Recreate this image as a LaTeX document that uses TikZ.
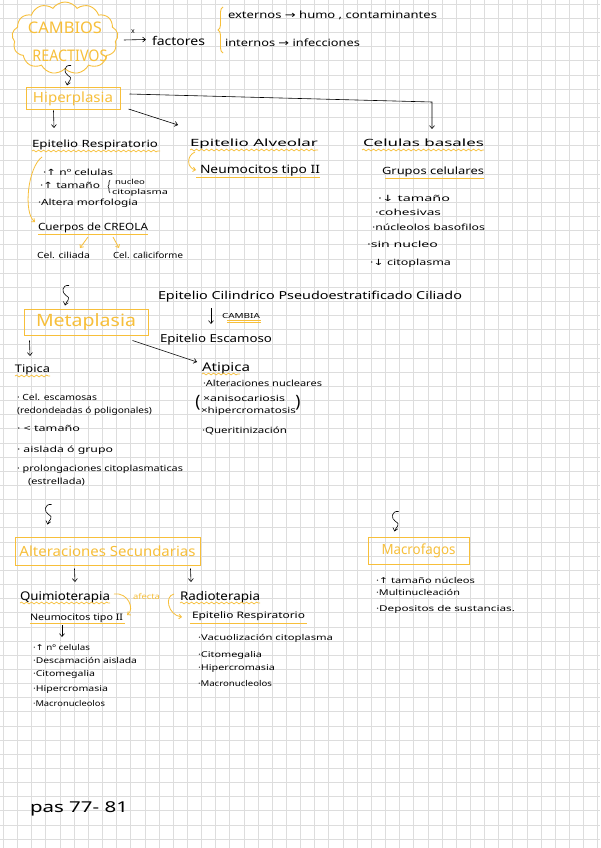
\documentclass[tikz,border=0pt]{standalone}
\usepackage{fontspec}
\setmainfont{Noto Sans}
\newfontfamily\symf{DejaVu Sans}
\usetikzlibrary{arrows.meta,decorations.pathmorphing,decorations.pathreplacing,shapes.symbols,calc}
\definecolor{ora}{HTML}{F7BF3A}
\definecolor{gridc}{HTML}{DDDDDD}
\newcommand\hw[2]{\resizebox{#1pt}{\height}{#2}}
\newcommand\myup{{\symf ↑}}
\newcommand\mydn{{\symf ↓}}
\newcommand\myra{{\symf →}}
\newcommand\sqarrow[1]{\draw[arr] ($(#1)+(3,0)$) .. controls +(-7,-1) and +(-5,-3) .. ($(#1)+(0,10)$) .. controls +(6,3) and +(1,-4) .. ($(#1)+(-1,20)$);}
\tikzset{
  t/.style={anchor=base west, inner sep=0pt, outer sep=0pt},
  fs/.style={font=\fontsize{#1}{#1}\selectfont},
  arr/.style={-{Straight Barb[length=3pt,width=5pt]}, line width=0.6pt},
  oarr/.style={draw=ora, line width=0.8pt, -{Straight Barb[length=2.5pt,width=4.5pt]}},
  wav/.style={draw=ora, line width=0.7pt, decorate, decoration={snake, amplitude=0.9pt, segment length=5pt}},
  ul/.style={draw=ora, line width=0.8pt},
  obox/.style={draw=ora, line width=1pt, inner sep=0pt, text=ora},
}
\begin{document}
\begin{tikzpicture}[x=1pt,y=-1pt]
\useasboundingbox (0,0) rectangle (600,848);
\fill[white] (0,0) rectangle (600,848);
\foreach \i in {0,...,42} \draw[gridc, line width=0.6pt] ({3.3+14.15*\i},0) -- ({3.3+14.15*\i},848);
\foreach \j in {0,...,59} \draw[gridc, line width=0.6pt] (0,{4.2+14.15*\j}) -- (600,{4.2+14.15*\j});

% ---- top
\node[cloud, cloud puffs=13, cloud puff arc=110, cloud ignores aspect, draw=ora, line width=0.9pt, minimum width=106, minimum height=72, inner sep=0pt] (cloud) at (65,38) {};
\node[anchor=base, inner sep=0pt, fs=16, text=ora] (cam) at (65,34) {\hw{74}{CAMBIOS}};
\node[anchor=base, inner sep=0pt, fs=16, text=ora] (rea) at (70,62) {\hw{75}{REACTIVOS}};
\node[t, fs=12] (fac) at (152,46) {\hw{53}{factores}};
\node[inner sep=0pt, fs=7] (xl) at (133,32) {x};
\draw[arr] ($(cloud.east)+(6,2)$) -- ($(fac.west)+(-6,-2)$);
\coordinate (brb) at (223,53);
\coordinate (brt) at (223,7);
\draw[draw=ora, line width=0.9pt, decorate, decoration={brace, amplitude=5pt}] (brb) -- (brt);
\node[t, fs=10] (ext) at (228,19) {\hw{209}{externos \myra\ humo , contaminantes}};
\node[t, fs=10] (int) at (225,47) {\hw{135}{internos \myra\ infecciones}};

% ---- hiperplasia
\node[obox, minimum width=94, minimum height=22, fs=14] (hip) at (73,99) {\hw{80}{Hiperplasia}};
\coordinate (s1) at ($(hip.north)+(-5,-22)$);
\sqarrow{s1}
\node[t, fs=10] (er1) at (32,147) {\hw{126}{Epitelio Respiratorio}};
\node[t, fs=10] (ea) at (190,146) {\hw{128}{Epitelio Alveolar}};
\node[t, fs=10] (cbas) at (363,146) {\hw{121}{Celulas basales}};
\coordinate (k1) at (432,102);
\coordinate (k2) at (432,129);
\draw[arr] ($(hip.east)+(9,-5)$) -- (k1) -- (k2);
\coordinate (k3) at (178,125);
\draw[arr] ($(hip.east)+(8,10)$) -- (k3);
\draw[arr] ($(hip.south west)+(28,0)$) -- ($(er1.base west)+(22,-19)$);
\draw[wav] ($(er1.base west)+(0,4)$) -- ($(er1.base east)+(2,4)$);
\draw[wav] ($(ea.base west)+(0,4)$) -- ($(ea.base east)+(0,4)$);
\draw[wav] ($(cbas.base west)+(-1,4)$) -- ($(cbas.base east)+(0,4)$);

% epitelio respiratorio
\node[t, fs=8.5] (b1) at (43,175) {\hw{70}{·\myup\ nº celulas}};
\node[t, fs=8.5] (b2) at (40,188) {\hw{60}{·\myup\ tamaño}};
\node[t, fs=7] (nuc) at (115,184) {\hw{30}{nucleo}};
\node[t, fs=7] (cit) at (112,194) {\hw{56}{citoplasma}};
\draw[line width=0.6pt, decorate, decoration={brace, amplitude=2pt}] ($(cit.base west)+(-2,-1)$) -- ($(nuc.base west)+(-5,-4)$);
\node[t, fs=8.5] (b3) at (38,205) {\hw{100}{·Altera morfologia}};
\node[t, fs=10] (creola) at (38,230) {\hw{110}{Cuerpos de CREOLA}};
\draw[ul] ($(creola.base west)+(0,4)$) -- ($(creola.base east)+(0,4)$);
\draw[oarr] ($(er1.base west)+(10,10)$) .. controls +(-14,10) and +(-12,-10) .. ($(creola.base west)+(-3,-8)$);
\node[t, fs=8.5] (cc) at (37,258) {\hw{53}{Cel. ciliada}};
\node[t, fs=8.5] (ccal) at (113,258) {\hw{70}{Cel. caliciforme}};
\draw[oarr] ($(creola.base west)+(50,7)$) -- ($(cc.base west)+(43,-10)$);
\draw[oarr] ($(creola.base west)+(75,7)$) -- ($(ccal.base west)+(6,-10)$);

% epitelio alveolar
\node[t, fs=11.5] (neu1) at (200,174) {\hw{120}{Neumocitos tipo II}};
\draw[ul] ($(neu1.base west)+(-4,3)$) -- ($(neu1.base east)+(0,3)$);
\draw[oarr] ($(ea.base west)+(5,6)$) .. controls +(-9,4) and +(-9,-2) .. ($(neu1.base west)+(-4,-4)$);

% celulas basales
\node[t, fs=10] (gc) at (382,174) {\hw{102}{Grupos celulares}};
\draw[ul] ($(gc.base west)+(3,4)$) -- ($(gc.base east)+(0,4)$);
\node[t, fs=8.5] (gb1) at (378,201) {\hw{72}{·\mydn\ tamaño}};
\node[t, fs=8.5] (gb2) at (375,215) {\hw{66}{·cohesivas}};
\node[t, fs=8.5] (gb3) at (372,230) {\hw{113}{·núcleolos basofilos}};
\node[t, fs=8.5] (gb4) at (367,247) {\hw{71}{·sin nucleo}};
\node[t, fs=8.5] (gb5) at (370,265) {\hw{81}{·\mydn\ citoplasma}};

% ---- metaplasia
\node[obox, minimum width=124, minimum height=26, fs=17] (meta) at (86,322) {\hw{100}{Metaplasia}};
\coordinate (s2) at ($(meta.north)+(-20,-23)$);
\sqarrow{s2}
\node[t, fs=11] (ecil) at (158,299) {\hw{304}{Epitelio Cilindrico Pseudoestratificado Ciliado}};
\node[t, fs=7] (camb) at (222,318) {\hw{38}{CAMBIA}};
\node[t, fs=11] (eesc) at (160,342) {\hw{112}{Epitelio Escamoso}};
\draw[arr] ($(ecil.base west)+(53,9)$) -- ($(eesc.base west)+(51,-18)$);
\draw[ul, line width=0.6pt] ($(camb.base west)+(5,2)$) -- ($(camb.base east)+(1,2)$);
\draw[ul, line width=0.6pt] ($(camb.base west)+(5,4)$) -- ($(camb.base east)+(1,4)$);

\node[t, fs=10.5] (tip) at (15,372) {\hw{35}{Tipica}};
\draw[wav] ($(tip.base west)+(0,4)$) -- ($(tip.base east)+(0,4)$);
\draw[arr] ($(meta.south west)+(6,5)$) -- ($(tip.base west)+(15,-16)$);
\node[t, fs=12] (atip) at (202,371) {\hw{48}{Atipica}};
\draw[wav] ($(atip.base west)+(0,3)$) -- ($(atip.base east)+(-10,3)$);
\draw[arr] ($(meta.south east)+(-16,5)$) -- ($(atip.base west)+(-5,-9)$);

\node[t, fs=8.5] (an1) at (203,386) {\hw{119}{·Alteraciones nucleares}};
\node[t, fs=8.5] (an2) at (203,401) {\hw{82}{×anisocariosis}};
\node[t, fs=8.5] (an3) at (201,413) {\hw{95}{×hipercromatosis}};
\node[inner sep=0pt, fs=17] (lp) at (198,403) {(};
\node[inner sep=0pt, fs=17] (rp) at (298,403) {)};
\node[t, fs=8.5] (an4) at (202,433) {\hw{85}{·Queritinización}};

\node[t, fs=8.5] (tb1) at (17,400) {\hw{80}{· Cel. escamosas}};
\node[t, fs=8.5] (tb2) at (17,413) {\hw{135}{(redondeadas ó poligonales)}};
\node[t, fs=8.5] (tb3) at (17,431) {\hw{63}{· < tamaño}};
\node[t, fs=8.5] (tb4) at (17,452) {\hw{96}{· aislada ó grupo}};
\node[t, fs=8.5] (tb5) at (17,471) {\hw{166}{· prolongaciones citoplasmaticas}};
\node[t, fs=8.5] (tb6) at (28,484) {\hw{57}{(estrellada)}};

% ---- alteraciones secundarias
\node[obox, minimum width=185, minimum height=28, fs=14] (alt) at (107.5,551) {\hw{176}{Alteraciones Secundarias}};
\coordinate (s3) at ($(alt.north)+(-59,-32)$);
\sqarrow{s3}
\node[t, fs=12] (quim) at (20,600) {\hw{90}{Quimioterapia}};
\node[t, fs=12] (radio) at (180,600) {\hw{80}{Radioterapia}};
\draw[arr] ($(alt.south west)+(60,3)$) -- ($(quim.base west)+(55,-18)$);
\draw[arr] ($(alt.south west)+(176,3)$) -- ($(radio.base west)+(11,-18)$);
\draw[wav] ($(quim.base west)+(0,3)$) -- ($(quim.base east)+(0,3)$);
\draw[wav] ($(radio.base west)+(0,3)$) -- ($(radio.base east)+(0,3)$);
\node[t, fs=8, text=ora] (afe) at (133,599) {\hw{27}{afecta}};
\node[t, fs=9] (neu2) at (30,620) {\hw{93}{Neumocitos tipo II}};
\node[t, fs=9] (er2) at (192,618) {\hw{113}{Epitelio Respiratorio}};
\draw[ul] ($(neu2.base west)+(0,3)$) -- ($(neu2.base east)+(2,3)$);
\draw[ul] ($(er2.base west)+(-2,5)$) -- ($(er2.base east)+(2,5)$);
\draw[oarr] ($(afe.base west)+(-19,-5)$) .. controls +(14,-2) and +(8,-6) .. ($(neu2.base east)+(4,-5)$);
\draw[oarr] ($(afe.base east)+(14,-5)$) .. controls +(-10,2) and +(-14,-2) .. ($(er2.base west)+(-10,-1)$);

\node[t, fs=8] (qb1) at (33,650) {\hw{57}{·\myup\ nº celulas}};
\node[t, fs=8] (qb2) at (33,663) {\hw{104}{·Descamación aislada}};
\node[t, fs=8] (qb3) at (33,676) {\hw{62}{·Citomegalia}};
\node[t, fs=8] (qb4) at (33,691) {\hw{75}{·Hipercromasia}};
\node[t, fs=8] (qb5) at (33,706) {\hw{72}{·Macronucleolos}};
\draw[arr] ($(neu2.base west)+(32,5)$) -- ($(qb1.base west)+(29,-13)$);

\node[t, fs=8] (rb1) at (198,640) {\hw{135}{·Vacuolización citoplasma}};
\node[t, fs=8] (rb2) at (198,657) {\hw{64}{·Citomegalia}};
\node[t, fs=8] (rb3) at (198,670) {\hw{77}{·Hipercromasia}};
\node[t, fs=8] (rb4) at (198,686) {\hw{74}{·Macronucleolos}};

% ---- macrofagos
\node[obox, minimum width=101, minimum height=27, fs=14] (mac) at (418.5,550.5) {\hw{74}{Macrofagos}};
\coordinate (s4) at ($(mac.north)+(-23,-25)$);
\sqarrow{s4}
\node[t, fs=8] (mb1) at (376,583) {\hw{99}{·\myup\ tamaño núcleos}};
\node[t, fs=8] (mb2) at (376,595) {\hw{84}{·Multinucleación}};
\node[t, fs=8] (mb3) at (376,611) {\hw{139}{·Depositos de sustancias.}};

\node[t, fs=15] (pas) at (30,812) {\hw{98}{pas 77- 81}};
\end{tikzpicture}
\end{document}
